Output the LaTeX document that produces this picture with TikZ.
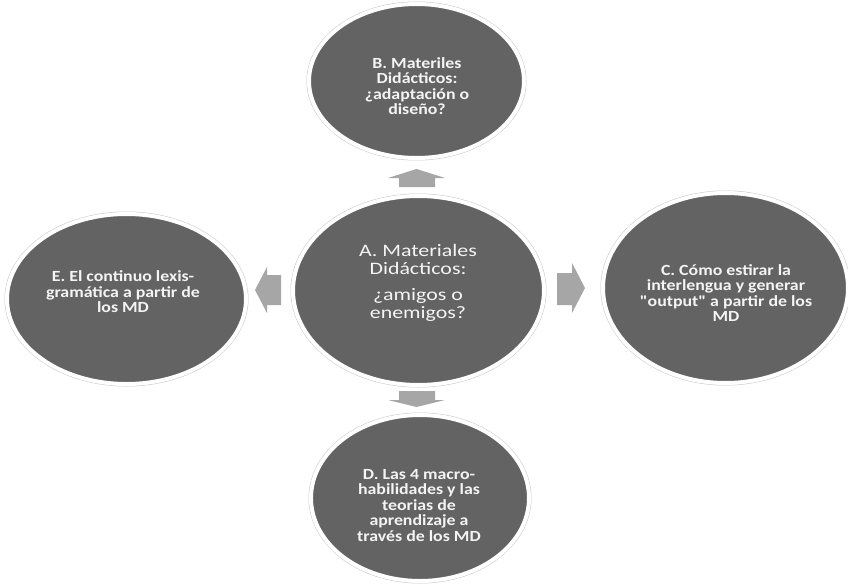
\documentclass[tikz,border=0pt]{standalone}
\usepackage{fontspec}
\setmainfont{Carlito}[FakeStretch=1.15, Ligatures=TeXOff]
\newfontfamily\afont{Carlito}[FakeStretch=1.25, Ligatures=TeXOff]
\usetikzlibrary{shapes.geometric}
\definecolor{ellfill}{HTML}{636363}
\definecolor{ringgray}{HTML}{C8C8C8}
\definecolor{arrgray}{HTML}{A6A6A6}
\definecolor{txt}{HTML}{F4F4F4}
\begin{document}
\begin{tikzpicture}[x=1pt,y=-1pt,
  bubble/.style={ellipse, inner sep=0pt, fill=ellfill, draw=white, line width=4pt,
    preaction={draw=ringgray, line width=5pt}},
  outertext/.style={align=center, text=txt, inner sep=0pt,
    font=\fontsize{15.5}{15.5}\selectfont\bfseries},
  centertext/.style={align=center, text=txt, inner sep=0pt,
    font=\afont\fontsize{17.5}{18}\selectfont},
  blockarrow/.style={fill=arrgray}]
\useasboundingbox[fill=white] (0,0) rectangle (848,586);

% ellipses
\node[bubble, minimum width=251pt, minimum height=189pt] (A) at (418.5,290.5) {};
\node[bubble, minimum width=215pt, minimum height=154pt] (B) at (416.5,81) {};
\node[bubble, minimum width=245pt, minimum height=190pt] (C) at (725.5,288) {};
\node[bubble, minimum width=239pt, minimum height=170pt] (E) at (126.5,299) {};
\node[bubble, minimum width=218pt, minimum height=166pt] (D) at (420,498) {};

% block arrows
\fill[blockarrow] (399,187) -- (399,178) -- (388,178) -- (416.5,169) -- (445,178) -- (435,178) -- (435,187) -- cycle;
\fill[blockarrow] (399,391) -- (435,391) -- (435,400) -- (445,400) -- (416.5,407) -- (388,400) -- (399,400) -- cycle;
\fill[blockarrow] (281,275) -- (267,275) -- (267,267) -- (255,290) -- (267,313) -- (267,305) -- (281,305) -- cycle;
\fill[blockarrow] (557,273) -- (572,273) -- (572,263) -- (585,288) -- (572,313) -- (572,305) -- (557,305) -- cycle;

% texts
\node[centertext] (tA) at (418,282.5) {A. Materiales\\Didácticos:\\[8pt]¿amigos o\\enemigos?};
\node[outertext] (tB) at (417,86) {B. Materiles\\Didácticos:\\¿adaptación o\\diseño?};
\node[outertext] (tC) at (726,293) {C. Cómo estirar la\\interlengua y generar\\"output" a partir de los\\MD};
\node[outertext] (tE) at (123,292) {E. El continuo lexis-\\gramática a partir de\\los MD};
\node[outertext] (tD) at (419,505.5) {D. Las 4 macro-\\habilidades y las\\teorias de\\aprendizaje a\\través de los MD};
\end{tikzpicture}
\end{document}
